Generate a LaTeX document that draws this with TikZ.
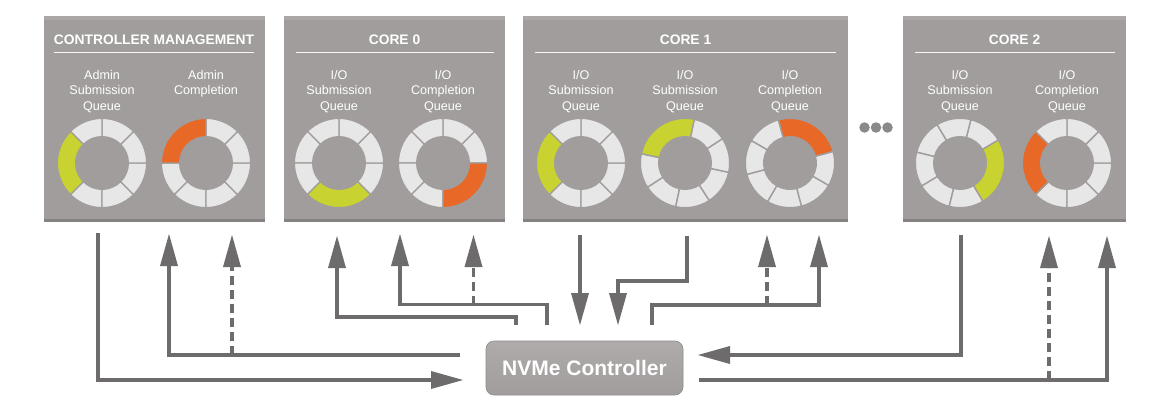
\documentclass[tikz,border=0pt]{standalone}
\usepackage{fontspec}
\setmainfont{Liberation Sans}
\usetikzlibrary{arrows.meta}
\definecolor{boxgray}{HTML}{A09D9C}
\definecolor{boxshade}{HTML}{858281}
\definecolor{boxlight}{HTML}{AAA7A6}
\definecolor{ringgray}{HTML}{E7E7E7}
\definecolor{qgreen}{HTML}{C8D230}
\definecolor{qorange}{HTML}{E86828}
\definecolor{arrowgray}{HTML}{6E6B6C}
\definecolor{dotgray}{HTML}{8C898A}
\tikzset{
  qbox/.style={fill=boxgray, inner sep=0pt, minimum height=206pt, anchor=north west,
    path picture={
      \fill[boxlight] (path picture bounding box.north west) rectangle ([yshift=-4pt]path picture bounding box.north east);
      \fill[boxshade] (path picture bounding box.south west) rectangle ([yshift=3pt]path picture bounding box.south east);}},
  ttl/.style={text=white, font=\bfseries\fontsize{13.8}{15}\selectfont, inner sep=0pt},
  ttlline/.style={draw=white!92!boxgray, line width=1pt},
  lbl/.style={text=white, font=\fontsize{12.6}{15.6}\selectfont, align=center, inner sep=0pt, anchor=north},
  seg/.style={draw=boxgray, line width=1.4pt, line join=miter},
  conn/.style={draw=arrowgray, line width=3.3pt},
  dconn/.style={conn, dash pattern=on 9pt off 5pt},
  tip/.style={-{Triangle[length=32pt,width=18pt,line width=0pt]}},
  nvmebox/.style={rounded corners=8pt, top color=boxlight!95!white, bottom color=boxgray, draw=boxgray!90!black, line width=0.6pt,
    minimum width=197pt, minimum height=54pt, text=white, font=\bfseries\fontsize{21}{23}\selectfont},
  qdot/.style={circle, fill=dotgray, minimum size=10.5pt, inner sep=0pt}
}
\newcommand\qring[4]{%
  \begin{scope}[shift={(#1,#2)}]
    \foreach \k in {0,...,5}{
      \pgfmathsetmacro\qsa{#3+90+45*\k}
      \pgfmathsetmacro\qea{\qsa+45}
      \path[seg,fill=ringgray] (\qsa:44.7pt) arc[start angle=\qsa,end angle=\qea,radius=44.7pt]
        -- (\qea:26.3pt) arc[start angle=\qea,end angle=\qsa,radius=26.3pt] -- cycle;
    }
    \pgfmathsetmacro\qea{#3+90}
    \path[seg,fill=#4] (#3:44.7pt) arc[start angle=#3,end angle=\qea,radius=44.7pt]
      -- (\qea:26.3pt) arc[start angle=\qea,end angle=#3,radius=26.3pt] -- cycle;
  \end{scope}}
\begin{document}
\begin{tikzpicture}[x=1pt,y=-1pt]
\fill[white] (0,0) rectangle (1168,412);
\useasboundingbox (0,0) rectangle (1168,412);

% boxes
\node[qbox, minimum width=221pt] (cm) at (44,16) {};
\node[qbox, minimum width=221pt] (c0) at (284,16) {};
\node[qbox, minimum width=325pt] (c1) at (523,16) {};
\node[qbox, minimum width=223pt] (c2) at (903,16) {};

% titles
\node[ttl] (cmT) at (154,40) {CONTROLLER MANAGEMENT};
\node[ttl] (c0T) at (394.5,40) {CORE 0};
\node[ttl] (c1T) at (685.5,40) {CORE 1};
\node[ttl] (c2T) at (1014.5,40) {CORE 2};
\draw[ttlline] (54,52.5) -- (254,52.5);
\draw[ttlline] (296,52.5) -- (494,52.5);
\draw[ttlline] (535,52.5) -- (836,52.5);
\draw[ttlline] (915,52.5) -- (1115,52.5);

% labels
\node[lbl] (l1) at (102,70) {Admin\\Submission\\Queue};
\node[lbl] (l2) at (206,70) {Admin\\Completion};
\node[lbl] (l3) at (339,70) {I/O\\Submission\\Queue};
\node[lbl] (l4) at (443,70) {I/O\\Completion\\Queue};
\node[lbl] (l5) at (581,70) {I/O\\Submission\\Queue};
\node[lbl] (l6) at (685,70) {I/O\\Submission\\Queue};
\node[lbl] (l7) at (790,70) {I/O\\Completion\\Queue};
\node[lbl] (l8) at (960,70) {I/O\\Submission\\Queue};
\node[lbl] (l9) at (1067,70) {I/O\\Completion\\Queue};

% rings
\qring{102}{163}{135}{qgreen}
\qring{206}{163}{90}{qorange}
\qring{339}{163}{225}{qgreen}
\qring{443}{163}{270}{qorange}
\qring{581}{163}{135}{qgreen}
\qring{685}{163}{78}{qgreen}
\qring{790}{163}{15}{qorange}
\qring{960}{163}{-59}{qgreen}
\qring{1067}{163}{135}{qorange}

% dots
\node[qdot] (d1) at (864.5,127.5) {};
\node[qdot] (d2) at (876,127.5) {};
\node[qdot] (d3) at (887.5,127.5) {};

% controller
\node[nvmebox] (nvme) at (584.5,368) {NVMe Controller};

% ports
\coordinate (cmA) at (98,233);
\coordinate (cmB) at (169,234);
\coordinate (cmC) at (232,235);
\coordinate (cmCj) at (232,355);
\coordinate (c0A) at (337,236);
\coordinate (c0B) at (400,234);
\coordinate (c0C) at (473.5,235);
\coordinate (c0Cj) at (473.5,304.5);
\coordinate (c1A) at (580,235);
\coordinate (c1B) at (687,236);
\coordinate (c1C) at (819,235);
\coordinate (c1D) at (767,235);
\coordinate (c1Dj) at (767,305);
\coordinate (c2A) at (961,235);
\coordinate (c2B) at (1107,236);
\coordinate (c2C) at (1049,236);
\coordinate (c2Cj) at (1049,380);
\coordinate (nvL1) at (463,380);
\coordinate (nvL2) at (460,355);
\coordinate (nvT1) at (516,325);
\coordinate (nvT2) at (547,325);
\coordinate (nvT3) at (580,325);
\coordinate (nvT4) at (618,325);
\coordinate (nvT5) at (652,325);
\coordinate (nvR1) at (698,355);
\coordinate (nvR2) at (699,380);

% connectors
\draw[conn,tip] (cmA) |- (nvL1);
\draw[conn,tip] (nvL2) -| (cmB);
\draw[dconn,tip] (cmCj) -- (cmC);
\draw[conn,tip] (nvT1) -- (516,317) -| (c0A);
\draw[conn,tip] (nvT2) -- (547,304.5) -| (c0B);
\draw[dconn,tip] (c0Cj) -- (c0C);
\draw[conn,tip] (c1A) -- (nvT3);
\draw[conn,tip] (c1B) -- (687,281) -| (nvT4);
\draw[conn,tip] (nvT5) -- (652,305) -| (c1C);
\draw[dconn,tip] (c1Dj) -- (c1D);
\draw[conn,tip] (c2A) |- (nvR1);
\draw[conn,tip] (nvR2) -| (c2B);
\draw[dconn,tip] (c2Cj) -- (c2C);
\end{tikzpicture}
\end{document}
